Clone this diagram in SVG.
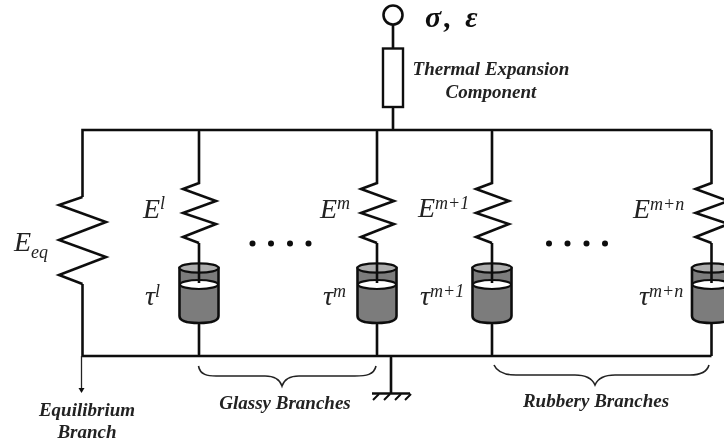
<svg xmlns="http://www.w3.org/2000/svg" width="724" height="446" viewBox="0 0 724 446">
<style>
.w{fill:none;stroke:#111;stroke-width:2.6;stroke-linejoin:miter}
.thin{fill:none;stroke:#222;stroke-width:1.6}
.lab{font-family:"Liberation Serif",serif;font-style:italic;font-weight:bold;font-size:19px;fill:#222;text-anchor:middle}
.sym{font-family:"Liberation Serif",serif;font-style:italic;fill:#222}
.b{font-size:28px}.s{font-size:18px}
</style>
<defs>
<filter id="soft" x="-5%" y="-5%" width="110%" height="110%"><feGaussianBlur stdDeviation="0.5"/></filter>
<g id="branch">
<path class="w" d="M0 130V183L-16 189L17 201L-16 213L17 224L-16 237L0 243"/>
<path d="M-19.500 268V316Q-19.500 323 0 323Q19.500 323 19.500 316V268Z" fill="#7c7c7c" stroke="#111" stroke-width="2.600"/>
<ellipse cx="0" cy="268" rx="19.500" ry="4.700" fill="#adadad" stroke="#111" stroke-width="2.200"/>
<ellipse cx="0" cy="284.500" rx="19" ry="4.500" fill="#fff" stroke="#111" stroke-width="2.200"/>
<path class="w" d="M0 243V283M0 323V356"/>
</g>
<g id="dots"><circle cx="0" cy="243.500" r="3" fill="#111"/><circle cx="18.500" cy="243.500" r="3" fill="#111"/><circle cx="37.500" cy="243.500" r="3" fill="#111"/><circle cx="56" cy="243.500" r="3" fill="#111"/></g>
</defs>
<rect width="724" height="446" fill="#fff"/>
<g filter="url(#soft)">
<g id="connectors">
<path class="w" d="M82.500 197V130H711.500M82.500 284V356H711.500"/>
<path class="w" d="M393 25V48M393 107V130"/>
<path class="w" d="M391 356V393"/>
<path class="w" d="M372 393.500H410"/>
<path d="M379 394L373 400M390 394L384 400M401 394L395 400M411 394L405 400" fill="none" stroke="#111" stroke-width="2"/>
<path d="M81.500 356V390" stroke="#222" stroke-width="1.300" fill="none"/>
<path d="M78.500 388H84.500L81.500 393Z" fill="#111"/>
<path class="thin" d="M198.500 366C200 375 208 376 216 376H265C275 376 280 380 282 386C284 380 289 376 299 376H355C366 376 374 375 376 366"/>
<path class="thin" d="M494 365C497 372 505 375 516 375H575C585 375 592 378 595 385C598 378 605 375 615 375H690C700 375 707 372 709 365"/>
</g>
<g id="port"><circle cx="393" cy="15" r="9.500" fill="#fff" stroke="#111" stroke-width="2.600"/></g>
<g id="thermal"><rect x="383" y="48.500" width="20" height="58.500" fill="#fff" stroke="#111" stroke-width="2.400"/></g>
<g id="equilibrium"><path class="w" d="M82.500 197L59 205L106 222L59 240L106 257L59 275L82.500 284"/></g>
<g id="branch1"><use href="#branch" x="199"/></g>
<g id="branchm"><use href="#branch" x="377"/></g>
<g id="branchm1"><use href="#branch" x="492"/></g>
<g id="branchmn"><use href="#branch" x="711.500"/></g>
<g id="dots1"><use href="#dots" x="252.500"/></g>
<g id="dots2"><use href="#dots" x="549"/></g>
<g id="labels">
<text x="425" y="27" style="font-family:'Liberation Serif',serif;font-weight:bold;font-style:italic;font-size:30px;letter-spacing:3px;fill:#111">σ, ε</text>
<text class="lab" x="491" y="75">Thermal Expansion</text>
<text class="lab" x="491" y="98">Component</text>
<text class="sym b" x="14" y="251">E<tspan class="s" dy="7">eq</tspan></text>
<text class="sym b" x="143" y="218">E<tspan class="s" dy="-9">l</tspan></text>
<text class="sym b" x="320" y="218">E<tspan class="s" dy="-9">m</tspan></text>
<text class="sym b" x="418" y="217">E<tspan class="s" dy="-8">m+1</tspan></text>
<text class="sym b" x="633" y="218">E<tspan class="s" dy="-8">m+n</tspan></text>
<text class="sym b" x="145" y="305">τ<tspan class="s" dy="-8">l</tspan></text>
<text class="sym b" x="323" y="305">τ<tspan class="s" dy="-8">m</tspan></text>
<text class="sym b" x="420" y="305">τ<tspan class="s" dy="-8">m+1</tspan></text>
<text class="sym b" x="639" y="305">τ<tspan class="s" dy="-8">m+n</tspan></text>
<text class="lab" x="87" y="416">Equilibrium</text>
<text class="lab" x="87" y="438">Branch</text>
<text class="lab" x="285" y="409">Glassy Branches</text>
<text class="lab" x="596" y="407">Rubbery Branches</text>
</g>
</g>
</svg>
